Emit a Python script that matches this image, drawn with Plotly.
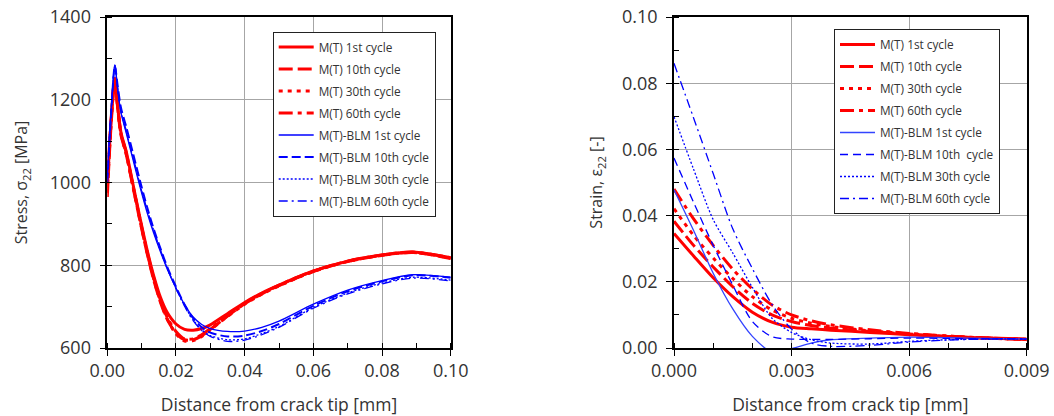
import plotly.graph_objects as go

# ---------------- Data: stress (left) ----------------
x_stress = [0, 0.001, 0.0022, 0.003, 0.004, 0.0055, 0.0075, 0.0095, 0.0115, 0.0135,
            0.0155, 0.0175, 0.02, 0.0225, 0.025, 0.0275, 0.03, 0.035, 0.04, 0.045,
            0.05, 0.06, 0.07, 0.08, 0.089, 0.1]
s_mt_1 = [985, 1135, 1250, 1185, 1120, 1075, 995, 915, 840, 775, 722, 685, 658, 645, 643, 647,
          656, 683, 710, 733, 752, 786, 810, 825, 832, 818]
s_mt_10 = [965, 1125, 1248, 1182, 1114, 1068, 988, 908, 832, 765, 710, 668, 636, 620, 620, 630,
           645, 677, 707, 731, 751, 785, 809, 824, 831, 816]
s_mt_30 = [975, 1130, 1250, 1184, 1116, 1070, 990, 910, 834, 767, 712, 670, 634, 617, 618, 628,
           644, 676, 706, 730, 750, 785, 809, 824, 831, 817]
s_mt_60 = [1000, 1140, 1252, 1188, 1118, 1072, 992, 912, 836, 770, 715, 673, 640, 622, 622, 632,
           647, 678, 708, 732, 752, 786, 810, 825, 832, 818]
s_blm_1 = [1020, 1160, 1285, 1225, 1168, 1120, 1055, 990, 930, 878, 832, 790, 745, 705, 675, 657,
           647, 640, 641, 650, 665, 706, 740, 763, 777, 771]
s_blm_10 = [1000, 1150, 1282, 1235, 1180, 1135, 1070, 1005, 943, 888, 840, 795, 748, 705, 672, 650,
            637, 628, 630, 641, 658, 702, 737, 761, 776, 770]
s_blm_30 = [1010, 1155, 1283, 1228, 1170, 1124, 1060, 995, 935, 882, 835, 791, 744, 702, 668, 644,
            630, 620, 622, 635, 652, 698, 733, 757, 771, 764]
s_blm_60 = [1015, 1158, 1284, 1230, 1172, 1126, 1062, 997, 937, 884, 836, 792, 744, 701, 666, 642,
            628, 616, 619, 632, 650, 696, 731, 755, 769, 762]

# ---------------- Data: strain (right) ----------------
x_strain = [0, 0.0005, 0.001, 0.0015, 0.002, 0.0025, 0.003, 0.0035, 0.004, 0.005,
            0.006, 0.007, 0.008, 0.009]
e_mt_1 = [0.0346, 0.0278, 0.0212, 0.0155, 0.0108, 0.0078, 0.0063, 0.0058, 0.0054, 0.0047,
          0.0040, 0.0034, 0.0030, 0.0027]
e_mt_10 = [0.0383, 0.0310, 0.0245, 0.0185, 0.0135, 0.0100, 0.0080, 0.0068, 0.0060, 0.0050,
           0.0042, 0.0035, 0.0030, 0.0026]
e_mt_30 = [0.0421, 0.0340, 0.0272, 0.0210, 0.0155, 0.0115, 0.0090, 0.0075, 0.0065, 0.0052,
           0.0043, 0.0036, 0.0030, 0.0026]
e_mt_60 = [0.0480, 0.0390, 0.0310, 0.0238, 0.0178, 0.0130, 0.0100, 0.0082, 0.0070, 0.0055,
           0.0044, 0.0036, 0.0030, 0.0025]
e_blm_1 = [0.0478, 0.0355, 0.0226, 0.0118, 0.0035, -0.0012, -0.0002, 0.0015, 0.0025, 0.0030,
           0.0033, 0.0031, 0.0029, 0.0027]
e_blm_10 = [0.0574, 0.0440, 0.0310, 0.0190, 0.0080, 0.0034, 0.0027, 0.0026, 0.0026, 0.0028,
            0.0030, 0.0029, 0.0028, 0.0027]
e_blm_30 = [0.0699, 0.0540, 0.0388, 0.0287, 0.0183, 0.0090, 0.0047, 0.0025, 0.0015, 0.0012,
            0.0020, 0.0025, 0.0027, 0.0027]
e_blm_60 = [0.0860, 0.0695, 0.0527, 0.0360, 0.0240, 0.0132, 0.0057, 0.0015, 0.0005, 0.0008,
            0.0018, 0.0024, 0.0027, 0.0028]

names_left = ["M(T) 1st cycle", "M(T) 10th cycle", "M(T) 30th cycle", "M(T) 60th cycle",
              "M(T)-BLM 1st cycle", "M(T)-BLM 10th cycle", "M(T)-BLM 30th cycle", "M(T)-BLM 60th cycle"]
names_right = ["M(T) 1st cycle", "M(T) 10th cycle", "M(T) 30th cycle", "M(T) 60th cycle",
               "M(T)-BLM 1st cycle", "M(T)-BLM 10th\u00a0 cycle", "M(T)-BLM 30th cycle", "M(T)-BLM 60th cycle"]

RED = "#ff0000"
BLUE = "#0000ff"
styles_left = [
    (RED, 3, "solid"), (RED, 3, "14px,5px"), (RED, 3, "4px,5px"), (RED, 3, "14px,5px,4px,5px"),
    (BLUE, 1.3, "solid"), (BLUE, 2, "9px,4px"), (BLUE, 1.3, "2px,2px"), (BLUE, 1.3, "9px,4px,2px,4px"),
]
styles_right = [
    (RED, 3, "solid"), (RED, 3, "14px,5px"), (RED, 3, "4px,5px"), (RED, 3, "14px,5px,4px,5px"),
    ("#3344ff", 1.3, "solid"), (BLUE, 1.3, "8px,5px"), (BLUE, 1.3, "2px,2px"), (BLUE, 1.3, "9px,4px,2px,4px"),
]

left_series = [s_mt_1, s_mt_10, s_mt_30, s_mt_60, s_blm_1, s_blm_10, s_blm_30, s_blm_60]
right_series = [e_mt_1, e_mt_10, e_mt_30, e_mt_60, e_blm_1, e_blm_10, e_blm_30, e_blm_60]

fig = go.Figure()

for i, (ys, nm, (c, w, d)) in enumerate(zip(left_series, names_left, styles_left)):
    fig.add_trace(go.Scatter(
        x=x_stress, y=ys, name=nm, mode="lines",
        line=dict(color=c, width=w, dash=d, shape="spline", smoothing=0.8),
        xaxis="x", yaxis="y", legend="legend", legendgroup="L%d" % i,
    ))
for i, (ys, nm, (c, w, d)) in enumerate(zip(right_series, names_right, styles_right)):
    fig.add_trace(go.Scatter(
        x=x_strain, y=ys, name=nm, mode="lines",
        line=dict(color=c, width=w, dash=d, shape="spline", smoothing=0.8),
        xaxis="x2", yaxis="y2", legend="legend2", legendgroup="R%d" % i,
    ))

FONT = "Open Sans, Noto Sans, sans-serif"
TXT = "#333333"
W, H = 1054, 416


def fx(px):
    return px / W


def fy(py):
    return 1 - py / H


ydom = [fy(348), fy(17)]

common = dict(
    showline=True, linecolor="black", linewidth=1.5, mirror=True,
    showgrid=True, gridcolor="#a6a6a6", gridwidth=1,
    ticks="outside", ticklen=6, tickcolor="black", tickwidth=1,
    tickfont=dict(family=FONT, size=18, color=TXT),
    ticklabeloverflow="allow",
    zeroline=False, automargin=False,
)
xtitle_font = dict(family=FONT, size=17.5, color=TXT)
ytitle_font = dict(family=FONT, size=16, color=TXT)

fig.update_layout(
    width=W, height=H,
    margin=dict(l=0, r=0, t=0, b=0),
    paper_bgcolor="white", plot_bgcolor="white",
    font=dict(family=FONT, color=TXT),
    xaxis=dict(domain=[fx(107.3), fx(450.7)], range=[0, 0.1], dtick=0.02, tick0=0,
               tickformat=".2f", anchor="y",
               minor=dict(ticks="inside", ticklen=5, dtick=0.01, tickcolor="black", showgrid=False),
               title=dict(text="Distance from crack tip [mm]", font=xtitle_font, standoff=19),
               **common),
    yaxis=dict(domain=ydom, range=[600, 1400], dtick=200, tick0=600, anchor="x",
               minor=dict(ticks="inside", ticklen=5, dtick=100, tickcolor="black", showgrid=False),
               ticklabelstandoff=5,
               title=dict(text="Stress, σ<sub>22</sub> [MPa]", font=ytitle_font, standoff=18),
               **common),
    xaxis2=dict(domain=[fx(674), fx(1026.7)], range=[0, 0.009], dtick=0.003, tick0=0,
                tickformat=".3f", anchor="y2",
                minor=dict(ticks="inside", ticklen=5, dtick=0.001, tickcolor="black", showgrid=False),
                title=dict(text="Distance from crack tip [mm]", font=xtitle_font, standoff=19),
                **common),
    yaxis2=dict(domain=ydom, range=[0, 0.1], dtick=0.02, tick0=0, tickformat=".2f", anchor="x2",
                minor=dict(ticks="inside", ticklen=5, dtick=0.01, tickcolor="black", showgrid=False),
                ticklabelstandoff=5,
                title=dict(text="Strain, ε<sub>22</sub> [-]", font=ytitle_font, standoff=15),
                **common),
    legend=dict(x=fx(272.7), y=fy(31.5), xanchor="left", yanchor="top",
                bgcolor="white", bordercolor="#222222", borderwidth=1,
                font=dict(family=FONT, size=11.8, color=TXT),
                traceorder="grouped", tracegroupgap=3, itemwidth=35),
    legend2=dict(x=fx(834), y=fy(29), xanchor="left", yanchor="top",
                 bgcolor="white", bordercolor="#222222", borderwidth=1,
                 font=dict(family=FONT, size=11.8, color=TXT),
                 traceorder="grouped", tracegroupgap=3, itemwidth=35),
)

fig.write_html("out.html", config={"displayModeBar": False},
               post_script="document.body.style.margin='0';document.body.style.overflow='hidden';")
